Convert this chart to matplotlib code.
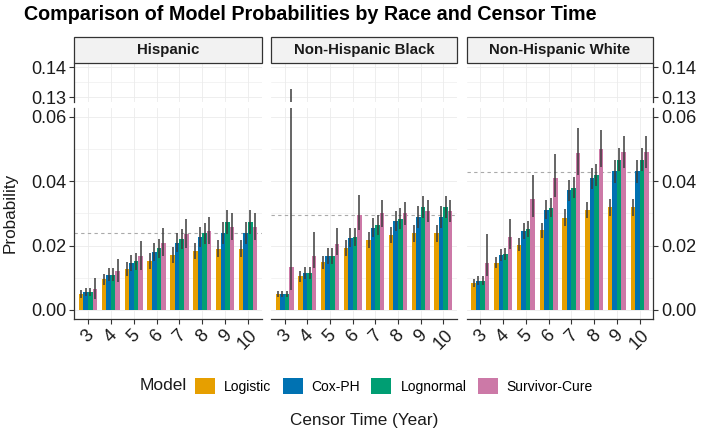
import matplotlib
matplotlib.use("Agg")
import matplotlib.pyplot as plt
from matplotlib.patches import Rectangle, Patch
import numpy as np

plt.rcParams['font.family'] = ['Liberation Sans', 'DejaVu Sans']

# ---------------- data ----------------
years = [3, 4, 5, 6, 7, 8, 9, 10]
races = ["Hispanic", "Non-Hispanic Black", "Non-Hispanic White"]
models = ["Logistic", "Cox-PH", "Lognormal", "Survivor-Cure"]
colors = ["#E69F00", "#0072B2", "#009E73", "#CC79A7"]

hisp_logistic = [0.0050, 0.0095, 0.0127, 0.0152, 0.0172, 0.0183, 0.0190, 0.0190]
hisp_coxph = [0.0056, 0.0109, 0.0147, 0.0181, 0.0209, 0.0226, 0.0240, 0.0240]
hisp_lognormal = [0.0056, 0.0109, 0.0151, 0.0191, 0.0221, 0.0238, 0.0273, 0.0273]
hisp_cure = [0.0065, 0.0122, 0.0168, 0.0209, 0.0236, 0.0246, 0.0258, 0.0258]
hisp_logistic_err = [0.0012, 0.0018, 0.0022, 0.0024, 0.0025, 0.0026, 0.0027, 0.0027]
hisp_coxph_err = [0.0012, 0.0020, 0.0025, 0.0028, 0.0030, 0.0032, 0.0034, 0.0034]
hisp_lognormal_err = [0.0012, 0.0020, 0.0026, 0.0029, 0.0031, 0.0033, 0.0036, 0.0036]
hisp_cure_lo = [0.0035, 0.0088, 0.0125, 0.0168, 0.0192, 0.0205, 0.0218, 0.0218]
hisp_cure_hi = [0.0098, 0.0158, 0.0214, 0.0253, 0.0282, 0.0290, 0.0300, 0.0300]

nhb_logistic = [0.0049, 0.0105, 0.0148, 0.0193, 0.0218, 0.0233, 0.0238, 0.0238]
nhb_coxph = [0.0050, 0.0114, 0.0167, 0.0225, 0.0256, 0.0276, 0.0289, 0.0289]
nhb_lognormal = [0.0050, 0.0114, 0.0167, 0.0227, 0.0264, 0.0284, 0.0320, 0.0320]
nhb_cure = [0.0134, 0.0167, 0.0205, 0.0294, 0.0300, 0.0300, 0.0308, 0.0308]
nhb_logistic_err = [0.0010, 0.0017, 0.0021, 0.0024, 0.0025, 0.0026, 0.0026, 0.0026]
nhb_coxph_err = [0.0010, 0.0019, 0.0024, 0.0028, 0.0030, 0.0032, 0.0033, 0.0033]
nhb_lognormal_err = [0.0010, 0.0019, 0.0024, 0.0028, 0.0031, 0.0033, 0.0034, 0.0034]
nhb_cure_lo = [0.0062, 0.0129, 0.0170, 0.0248, 0.0258, 0.0264, 0.0274, 0.0274]
nhb_cure_hi = [0.1327, 0.0243, 0.0253, 0.0357, 0.0341, 0.0334, 0.0341, 0.0341]

nhw_logistic = [0.0083, 0.0147, 0.0203, 0.0247, 0.0287, 0.0311, 0.0319, 0.0319]
nhw_coxph = [0.0091, 0.0170, 0.0246, 0.0311, 0.0371, 0.0409, 0.0430, 0.0430]
nhw_lognormal = [0.0091, 0.0173, 0.0251, 0.0318, 0.0380, 0.0420, 0.0466, 0.0466]
nhw_cure = [0.0145, 0.0226, 0.0344, 0.0410, 0.0487, 0.0500, 0.0489, 0.0489]
nhw_logistic_err = [0.0013, 0.0018, 0.0021, 0.0023, 0.0025, 0.0025, 0.0026, 0.0026]
nhw_coxph_err = [0.0013, 0.0019, 0.0025, 0.0029, 0.0032, 0.0033, 0.0035, 0.0035]
nhw_lognormal_err = [0.0013, 0.0019, 0.0025, 0.0029, 0.0032, 0.0034, 0.0036, 0.0036]
nhw_cure_lo = [0.0106, 0.0189, 0.0288, 0.0350, 0.0420, 0.0445, 0.0440, 0.0440]
nhw_cure_hi = [0.0236, 0.0282, 0.0420, 0.0484, 0.0566, 0.0558, 0.0540, 0.0540]

reference_lines = [0.0238, 0.0295, 0.0428]

upper_ticks = [0.13, 0.14]
lower_ticks = [0.00, 0.02, 0.04, 0.06]

# ---------------- assemble ----------------
def sym(v, e):
    v = np.asarray(v); e = np.asarray(e)
    return v - e, v + e

facet_data = []
for vals in [
    (hisp_logistic, hisp_logistic_err, hisp_coxph, hisp_coxph_err, hisp_lognormal, hisp_lognormal_err, hisp_cure, hisp_cure_lo, hisp_cure_hi),
    (nhb_logistic, nhb_logistic_err, nhb_coxph, nhb_coxph_err, nhb_lognormal, nhb_lognormal_err, nhb_cure, nhb_cure_lo, nhb_cure_hi),
    (nhw_logistic, nhw_logistic_err, nhw_coxph, nhw_coxph_err, nhw_lognormal, nhw_lognormal_err, nhw_cure, nhw_cure_lo, nhw_cure_hi),
]:
    lg, lge, cx, cxe, ln, lne, cu, culo, cuhi = vals
    series = [
        (lg, *sym(lg, lge)),
        (cx, *sym(cx, cxe)),
        (ln, *sym(ln, lne)),
        (cu, np.asarray(culo), np.asarray(cuhi)),
    ]
    facet_data.append(series)

W, H = 705, 438
fig = plt.figure(figsize=(W / 100, H / 100), dpi=100)

def fx(px):
    return px / W

def fy(py):
    return 1 - py / H

panels_x = [(74.3, 261.7), (271.0, 457.0), (466.7, 653.3)]
upper_y = (63.3, 101.7)
lower_y = (107.7, 319.3)
strip_y = (37.3, 63.3)

grid_col = "#EBEBEB"
axis_col = "#333333"
text_col = "#1A1A1A"
err_col = "#3C3C3C"

bar_w = 0.2
offsets = [-0.3, -0.1, 0.1, 0.3]
xs = np.array(years, dtype=float)
tick_fs = 13

for i, race in enumerate(races):
    x0, x1 = panels_x[i]
    ax_up = fig.add_axes([fx(x0), fy(upper_y[1]), fx(x1 - x0), (upper_y[1] - upper_y[0]) / H])
    ax_lo = fig.add_axes([fx(x0), fy(lower_y[1]), fx(x1 - x0), (lower_y[1] - lower_y[0]) / H])
    ax_up.set_ylim(0.12853, 0.14133)
    ax_lo.set_ylim(-0.00289, 0.0628)
    for ax in (ax_up, ax_lo):
        ax.set_xlim(2.4, 10.6)
        ax.set_facecolor("white")
        for s in ax.spines.values():
            s.set_visible(False)
        ax.set_axisbelow(True)
        ax.set_xticks(years)
        ax.set_xticks([], minor=True)
        ax.grid(True, which="major", color=grid_col, lw=0.6)
        ax.grid(True, which="minor", axis="y", color=grid_col, lw=0.4)
        series = facet_data[i]
        for k, (v, lo, hi) in enumerate(series):
            ax.bar(xs + offsets[k], v, width=bar_w, color=colors[k], zorder=2, linewidth=0)
            ax.vlines(xs + offsets[k], lo, hi, color=err_col, lw=1.1, zorder=3)
    ax_up.set_yticks(upper_ticks)
    ax_up.set_yticks([0.135], minor=True)
    ax_lo.set_yticks(lower_ticks)
    ax_lo.set_yticks([0.01, 0.03, 0.05], minor=True)
    ax_lo.axhline(reference_lines[i], color="#AAAAAA", lw=0.8, ls=(0, (3, 3)), zorder=1.5)

    ax_up.tick_params(axis="x", which="both", length=0, labelbottom=False)
    ax_up.tick_params(axis="y", which="minor", length=0)
    ax_lo.tick_params(axis="y", which="minor", length=0)
    ax_lo.tick_params(axis="x", which="major", length=3.5, color=axis_col, width=0.8,
                      labelsize=tick_fs, labelcolor=text_col, pad=2)
    ax_lo.spines["bottom"].set_visible(True)
    ax_lo.spines["bottom"].set_color(axis_col)
    ax_lo.spines["bottom"].set_linewidth(0.9)
    ax_lo.set_xticklabels([str(y) for y in years], rotation=45, ha="center", va="top",
                          rotation_mode="default")

    fmt = lambda t: f"{t:.2f}"
    if i == 0:
        for ax, tk in ((ax_up, upper_ticks), (ax_lo, lower_ticks)):
            ax.spines["left"].set_visible(True)
            ax.spines["left"].set_color(axis_col)
            ax.spines["left"].set_linewidth(0.9)
            ax.tick_params(axis="y", which="major", left=True, right=False, labelleft=True,
                           labelright=False, length=3.5, color=axis_col, width=0.8,
                           labelsize=tick_fs, labelcolor=text_col, pad=2)
            ax.set_yticklabels([fmt(t) for t in tk])
    elif i == 2:
        for ax, tk in ((ax_up, upper_ticks), (ax_lo, lower_ticks)):
            ax.spines["right"].set_visible(True)
            ax.spines["right"].set_color(axis_col)
            ax.spines["right"].set_linewidth(0.9)
            ax.yaxis.tick_right()
            ax.tick_params(axis="y", which="major", left=False, right=True, labelleft=False,
                           labelright=True, length=3.5, color=axis_col, width=0.8,
                           labelsize=tick_fs, labelcolor=text_col, pad=2)
            ax.set_yticklabels([fmt(t) for t in tk])
    else:
        for ax in (ax_up, ax_lo):
            ax.tick_params(axis="y", which="major", left=False, right=False,
                           labelleft=False, labelright=False)

    # strip
    fig.patches.append(Rectangle((fx(x0), fy(strip_y[1])), fx(x1 - x0), (strip_y[1] - strip_y[0]) / H,
                                 transform=fig.transFigure, facecolor="#F2F2F2",
                                 edgecolor=axis_col, lw=0.9, zorder=5))
    fig.text(fx((x0 + x1) / 2), fy((strip_y[0] + strip_y[1]) / 2), race, ha="center", va="center",
             fontsize=10.8, fontweight="bold", color=text_col, zorder=6)

# title and axis titles
fig.text(fx(24), fy(14), "Comparison of Model Probabilities by Race and Censor Time",
         ha="left", va="center", fontsize=14.2, fontweight="bold", color="black")
fig.text(fx(10), fy(213), "Probability", rotation=90, ha="center", va="center",
         fontsize=12.3, color=text_col)
fig.text(fx(364), fy(421), "Censor Time (Year)", ha="center", va="center",
         fontsize=12.3, color=text_col)

# legend
handles = [Patch(facecolor=c, edgecolor="none") for c in colors]
fig.text(fx(140), fy(386), "Model", ha="left", va="center", fontsize=12.5, color=text_col)
fig.legend(handles, models, loc="center", bbox_to_anchor=(fx(394), fy(386)), ncol=4,
           frameon=False, fontsize=10, handlelength=1.44, handleheight=1.44,
           handletextpad=0.65, columnspacing=0.8, borderaxespad=0, borderpad=0)

fig.savefig("out.png", dpi=100, facecolor="white")
